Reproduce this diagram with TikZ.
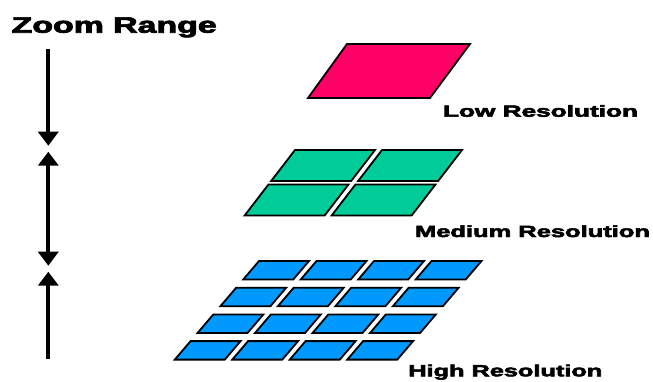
\documentclass[tikz,border=0pt]{standalone}
\usepackage{fontspec}
\usepackage{graphicx}
\newfontfamily\heavy{Liberation Sans Bold}[FakeBold=3]
\usetikzlibrary{arrows.meta}
\definecolor{lowpink}{HTML}{FF0066}
\definecolor{medgreen}{HTML}{00CC99}
\definecolor{highblue}{HTML}{0099FF}
\tikzset{
  tileshape/.style={draw=black, line width=1.8pt, line join=miter},
  zarrow/.style={line width=4pt, draw=black, -{Triangle[width=20pt,length=14pt]}},
  zdarrow/.style={line width=4pt, draw=black, {Triangle[width=20pt,length=14pt]}-{Triangle[width=20pt,length=14pt]}},
  zuarrow/.style={line width=4pt, draw=black, {Triangle[width=20pt,length=14pt]}-},
  lab/.style={inner sep=0pt, outer sep=0pt, anchor=base west, font=\heavy}
}
\begin{document}
\begin{tikzpicture}[x=1pt,y=-1pt]
\useasboundingbox (0,0) rectangle (653,381);
% title
\node[lab] (title) at (11.7,32.7) {\resizebox{205pt}{15.3pt}{Zoom Range}};
% arrows
\coordinate (a1s) at (48.3,49);
\coordinate (a1e) at (48.3,145.7);
\coordinate (a2s) at (48.3,151.7);
\coordinate (a2e) at (48.3,265.7);
\coordinate (a3s) at (48.3,271.7);
\coordinate (a3e) at (48.3,359.3);
\draw[zarrow] (a1s) -- (a1e);
\draw[zdarrow] (a2s) -- (a2e);
\draw[zuarrow] (a3s) -- (a3e);
% low resolution
\draw[tileshape, fill=lowpink] (347,44) -- (470,44) -- (430,98) -- (308,98) -- cycle;
\node[lab] (lowlab) at (443,116.7) {\resizebox{195pt}{11.7pt}{Low Resolution}};
% medium resolution
\foreach \j in {0,1}{
  \foreach \i in {0,1}{
    \pgfmathsetmacro{\ty}{150+\j*34.5}
    \pgfmathsetmacro{\tx}{295+\i*87-0.769*\j*34.5}
    \pgfmathsetmacro{\by}{\ty+31}
    \pgfmathsetmacro{\bx}{\tx-0.769*31}
    \draw[tileshape, fill=medgreen] (\tx,\ty) -- ({\tx+80},\ty) -- ({\bx+80},\by) -- (\bx,\by) -- cycle;
  }
}
\node[lab] (medlab) at (415,237) {\resizebox{235pt}{11.7pt}{Medium Resolution}};
% high resolution
\foreach \j in {0,1,2,3}{
  \foreach \i in {0,1,2,3}{
    \pgfmathsetmacro{\ty}{261+\j*26.7}
    \pgfmathsetmacro{\tx}{259+\i*57.5-0.854*\j*26.7}
    \pgfmathsetmacro{\by}{\ty+18.5}
    \pgfmathsetmacro{\bx}{\tx-0.854*18.5}
    \draw[tileshape, fill=highblue] (\tx,\ty) -- ({\tx+50},\ty) -- ({\bx+50},\by) -- (\bx,\by) -- cycle;
  }
}
\node[lab] (highlab) at (408.3,376.3) {\resizebox{194pt}{11.7pt}{High Resolution}};
\end{tikzpicture}
\end{document}
